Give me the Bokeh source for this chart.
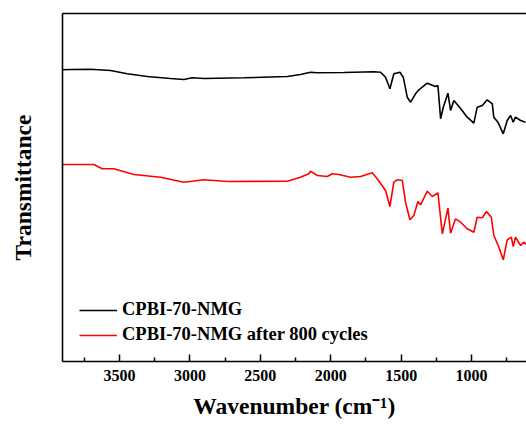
from bokeh.plotting import figure
from bokeh.models import Range1d, FixedTicker, LinearAxis, Legend, LegendItem
from bokeh.embed import file_html
from bokeh.resources import INLINE

# FTIR spectra (arbitrary transmittance units, offset traces)
wn_black = [3905, 3848, 3706, 3564, 3445, 3303, 3138, 3043, 2984, 2901, 2617, 2309, 2215, 2144, 2096,
            1907, 1694, 1646, 1611, 1580, 1552, 1509, 1485, 1457, 1433, 1398, 1374, 1315, 1256, 1239,
            1220, 1201, 1168, 1149, 1126, 1078, 1031, 984, 960, 924, 889, 853, 842, 813, 775, 747,
            723, 704, 688, 652, 617]
t_black = [291.7, 292.0, 292.3, 291.0, 287.7, 285.0, 283.0, 282.0, 283.7, 283.0, 283.7, 285.0, 287.0, 289.3, 288.7,
           289.0, 289.7, 289.3, 284.3, 272.7, 287.7, 289.3, 284.3, 264.3, 259.3, 267.7, 271.7, 278.3, 275.0, 276.0,
           242.7, 254.3, 268.3, 251.0, 261.0, 253.0, 244.3, 238.3, 254.3, 256.0, 261.7, 257.7, 244.3, 239.3, 227.7, 241.0,
           246.0, 239.3, 244.3, 241.0, 239.3]

wn_red = [3905, 3683, 3623, 3540, 3398, 3209, 3043, 2901, 2735, 2309, 2215, 2156, 2144, 2096, 2025,
          1989, 1943, 1859, 1788, 1705, 1670, 1611, 1580, 1552, 1528, 1492, 1469, 1438, 1410, 1381,
          1362, 1315, 1279, 1239, 1208, 1168, 1149, 1114, 1078, 1031, 984, 960, 924, 894, 860,
          842, 806, 775, 747, 718, 704, 688, 652, 629, 610]
t_red = [197.0, 197.0, 192.7, 192.7, 187.0, 184.3, 179.3, 181.7, 180.0, 180.3, 184.3, 187.7, 190.3, 186.0, 185.0,
         187.7, 187.0, 184.3, 185.0, 188.7, 182.7, 171.0, 155.0, 179.3, 181.7, 181.0, 159.3, 141.7, 146.0, 160.0,
         156.7, 170.3, 165.0, 168.7, 127.7, 153.3, 128.3, 142.7, 139.3, 132.7, 129.3, 144.3, 143.7, 150.0, 144.3,
         126.0, 114.3, 101.7, 121.7, 124.3, 115.0, 124.3, 116.0, 119.3, 117.0]

major_ticks = [3500, 3000, 2500, 2000, 1500, 1000]
minor_ticks = [3750, 3250, 2750, 2250, 1750, 1250, 750]
series_names = ["CPBI-70-NMG", "CPBI-70-NMG after 800 cycles"]

FONT = "Liberation Serif"

p = figure(width=526, height=430, output_backend="svg", toolbar_location=None,
           x_range=Range1d(3905, 610), y_range=Range1d(0, 348),
           min_border_left=62, min_border_right=0, min_border_top=13, min_border_bottom=69)
p.outline_line_color = None
p.xgrid.visible = False
p.ygrid.visible = False

r1 = p.line(wn_black, t_black, line_color="black", line_width=1.6)
r2 = p.line(wn_red, t_red, line_color="#ff0000", line_width=1.6)

xa = p.xaxis[0]
xa.ticker = FixedTicker(ticks=major_ticks, minor_ticks=minor_ticks)
xa.axis_line_width = 1.6
xa.major_tick_in = 7
xa.major_tick_out = 0
xa.minor_tick_in = 4
xa.minor_tick_out = 0
xa.major_tick_line_width = 1.5
xa.minor_tick_line_width = 1.5
xa.major_label_text_font = FONT
xa.major_label_text_font_style = "bold"
xa.major_label_text_font_size = "16px"
xa.major_label_text_color = "black"
xa.major_label_standoff = 8
xa.axis_label = "Wavenumber (cm\u207b\u00b9)"
xa.axis_label_text_font = FONT
xa.axis_label_text_font_style = "bold"
xa.axis_label_text_font_size = "23.5px"
xa.axis_label_text_color = "black"
xa.axis_label_standoff = 9

ya = p.yaxis[0]
ya.axis_line_width = 1.6
ya.major_tick_line_color = None
ya.minor_tick_line_color = None
ya.major_label_text_font_size = "0px"
ya.major_label_text_color = None
ya.axis_label = "Transmittance"
ya.axis_label_text_font = FONT
ya.axis_label_text_font_style = "bold"
ya.axis_label_text_font_size = "23.5px"
ya.axis_label_text_color = "black"
ya.axis_label_standoff = 21

top = LinearAxis(axis_line_width=1.6, major_tick_line_color=None, minor_tick_line_color=None,
                 major_label_text_font_size="0px", major_label_text_color=None)
p.add_layout(top, "above")

legend = Legend(items=[LegendItem(label=series_names[0], renderers=[r1]),
                       LegendItem(label=series_names[1], renderers=[r2])],
                location=(17, 16), padding=4, margin=0, spacing=4,
                glyph_width=38, label_standoff=5, label_height=20, glyph_height=20,
                border_line_color=None, background_fill_alpha=0,
                label_text_font=FONT, label_text_font_style="bold",
                label_text_font_size="18.5px", label_text_color="black")
p.add_layout(legend, "center")

open("out.html", "w").write(file_html(p, INLINE))
